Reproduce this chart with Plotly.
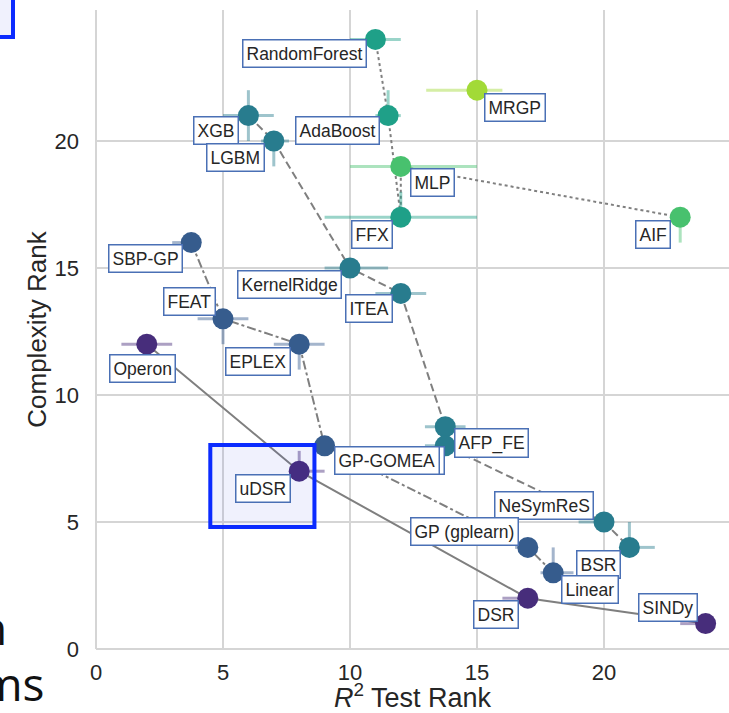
import plotly.graph_objects as go

# ---------------- data ----------------
algorithms = ["RandomForest", "MRGP", "AdaBoost", "XGB", "LGBM", "MLP", "FFX", "AIF",
              "SBP-GP", "KernelRidge", "ITEA", "FEAT", "EPLEX", "Operon", "AFP_FE", "AFP",
              "GP-GOMEA", "uDSR", "NeSymReS", "GP (gplearn)", "BSR", "Linear", "DSR", "SINDy"]
r2_test_rank = [11, 15, 11.5, 6, 7, 12, 12, 23,
                3.75, 10, 12, 5, 8, 2, 13.75, 13.75,
                9, 8, 20, 17, 21, 18, 17, 24]
complexity_rank = [24, 22, 21, 21, 20, 19, 17, 17,
                   16, 15, 14, 13, 12, 12, 8.75, 8,
                   8, 7, 5, 4, 4, 3, 2, 1]
r2_err_minus = [1, 2, 0.5, 1, 0.5, 2, 3, 0, 0.75, 1, 1, 1, 1, 1, 0.8, 0.8, 0, 0, 1, 0.5, 0, 0.5, 1, 1]
r2_err_plus = [1, 1, 0.5, 1, 0.6, 3, 3, 0, 0, 1.5, 1, 1, 1, 1, 0.8, 0.8, 0, 1, 0, 0, 1, 0.8, 0, 0]
cx_err_minus = [0, 0, 0, 1, 1, 0, 0, 1, 0, 0, 0, 1, 1, 0, 0, 0, 0, 0, 0, 0, 0, 0, 0, 0]
cx_err_plus = [0, 0, 1, 1, 0, 0, 1, 0, 0, 0, 0, 0, 0, 0, 0, 0, 0, 0.8, 0, 0, 1, 1, 0, 0]
color_group = [4, 6, 4, 3, 3, 5, 4, 5, 2, 3, 3, 2, 2, 1, 3, 3, 2, 1, 3, 2, 3, 2, 1, 1]

pareto_fronts = [
    ["Operon", "uDSR", "DSR", "SINDy"],
    ["SBP-GP", "FEAT", "EPLEX", "GP-GOMEA", "GP (gplearn)", "Linear"],
    ["XGB", "LGBM", "KernelRidge", "ITEA", "AFP_FE", "AFP", "NeSymReS", "BSR"],
    ["RandomForest", "AdaBoost", "FFX", "MLP", "AIF"],
]
x_ticks = [0, 5, 10, 15, 20]
y_ticks = [0, 5, 10, 15, 20]

# ---------------- styles ----------------
group_colors = {1: (71, 45, 123), 2: (54, 92, 141), 3: (40, 124, 142),
                4: (31, 160, 136), 5: (72, 193, 110), 6: (162, 218, 55)}
front_dash = ["solid", "dashdot", "8px,4px", "dot"]
# label offsets in screen pixels (dx right, dy down) from each point
label_offset = {
    "RandomForest": (-71, 14), "MRGP": (38, 17), "AdaBoost": (-51, 15), "XGB": (-32, 15),
    "LGBM": (-38, 16), "MLP": (32, 16), "FFX": (-29, 17), "AIF": (-27, 17),
    "SBP-GP": (-46, 16), "KernelRidge": (-61, 16), "ITEA": (-32, 15), "FEAT": (-34, -17),
    "EPLEX": (-41, 17), "Operon": (-4, 24), "AFP_FE": (46, 16), "AFP": (-22, 15),
    "GP-GOMEA": (62, 15), "uDSR": (-36, 17), "NeSymReS": (-60, -17),
    "GP (gplearn)": (-63, -16), "BSR": (-31, 17), "Linear": (37, 17), "DSR": (-32, 16),
    "SINDy": (-38, -16),
}

W, H = 729, 713
ML, MR, MT, MB = 96, 0, 10, 64
PX_PER_UNIT = 25.4
x_range = [0, (W - ML - MR) / PX_PER_UNIT]
y_range = [0, (H - MT - MB) / PX_PER_UNIT]

FONT = "Liberation Sans, Arial, sans-serif"
fig = go.Figure()

idx = {n: i for i, n in enumerate(algorithms)}
for k, front in enumerate(pareto_fronts):
    fig.add_trace(go.Scatter(
        x=[r2_test_rank[idx[n]] for n in front],
        y=[complexity_rank[idx[n]] for n in front],
        mode="lines", line=dict(color="#7f7f7f", width=2, dash=front_dash[k]),
        hoverinfo="skip", showlegend=False))

for i, name in enumerate(algorithms):
    r, g, b = group_colors[color_group[i]]
    ecol = f"rgba({r},{g},{b},0.45)"
    fig.add_trace(go.Scatter(
        x=[r2_test_rank[i]], y=[complexity_rank[i]], mode="markers",
        marker=dict(size=21, color=f"rgb({r},{g},{b})", line=dict(width=0)),
        error_x=dict(type="data", symmetric=False, array=[r2_err_plus[i]],
                     arrayminus=[r2_err_minus[i]], color=ecol, thickness=3, width=0,
                     visible=(r2_err_plus[i] + r2_err_minus[i]) > 0),
        error_y=dict(type="data", symmetric=False, array=[cx_err_plus[i]],
                     arrayminus=[cx_err_minus[i]], color=ecol, thickness=3, width=0,
                     visible=(cx_err_plus[i] + cx_err_minus[i]) > 0),
        name=name, showlegend=False))

annotations = []
for name in algorithms:
    i = idx[name]
    dx, dy = label_offset[name]
    annotations.append(dict(
        x=r2_test_rank[i], y=complexity_rank[i], xref="x", yref="y",
        text=name, showarrow=False, xshift=dx, yshift=-dy,
        font=dict(family=FONT, size=17.5, color="#262626"),
        bgcolor="white", bordercolor="#4a70b5", borderwidth=1.5, borderpad=3))


def px_to_paper_x(px):
    return (px - ML) / (W - ML - MR)


def px_to_paper_y(py):
    return (H - MB - py) / (H - MT - MB)


# fragments of surrounding slide text (cropped)
annotations.append(dict(x=px_to_paper_x(9), y=px_to_paper_y(660), xref="paper", yref="paper",
                        text="n", showarrow=False, xanchor="right", yanchor="bottom",
                        font=dict(family="Open Sans, sans-serif", size=46, color="#111111")))
annotations.append(dict(x=px_to_paper_x(47), y=px_to_paper_y(716), xref="paper", yref="paper",
                        text="ms", showarrow=False, xanchor="right", yanchor="bottom",
                        font=dict(family="Open Sans, sans-serif", size=46, color="#111111")))

shapes = [
    # highlight around uDSR
    dict(type="rect", xref="x", yref="y", x0=4.5, x1=8.6, y0=4.8, y1=8.03,
         line=dict(color="#0b2bff", width=4), fillcolor="rgba(40,60,220,0.07)", layer="above"),
    # cropped box of surrounding slide
    dict(type="rect", xref="paper", yref="paper", x0=px_to_paper_x(-20), x1=px_to_paper_x(13),
         y0=px_to_paper_y(37), y1=px_to_paper_y(-20),
         line=dict(color="#0b2bff", width=4), fillcolor="rgba(40,60,220,0.07)", layer="above"),
]

fig.update_layout(
    width=W, height=H, margin=dict(l=ML, r=MR, t=MT, b=MB),
    paper_bgcolor="white", plot_bgcolor="white",
    font=dict(family=FONT, color="#262626"),
    annotations=annotations, shapes=shapes,
    xaxis=dict(range=x_range, tickvals=x_ticks, showgrid=True, gridcolor="#d5d5d5", gridwidth=1.5,
               zeroline=True, zerolinecolor="#d5d5d5", zerolinewidth=1.5, showline=False,
               ticks="", ticklabelstandoff=8, tickfont=dict(size=22, color="#262626"),
               title=dict(text="<i>R</i><sup>2</sup> Test Rank", font=dict(size=27), standoff=2)),
    yaxis=dict(range=y_range, tickvals=y_ticks, showgrid=True, gridcolor="#d5d5d5", gridwidth=1.5,
               zeroline=True, zerolinecolor="#d5d5d5", zerolinewidth=1.5, showline=False,
               ticks="", ticklabelstandoff=16, tickfont=dict(size=22, color="#262626"),
               title=dict(text="Complexity Rank", font=dict(size=26), standoff=0)),
)

fig.write_html("out.html", config={"displayModeBar": False},
               post_script="document.body.style.margin='0';document.body.style.overflow='hidden';")
